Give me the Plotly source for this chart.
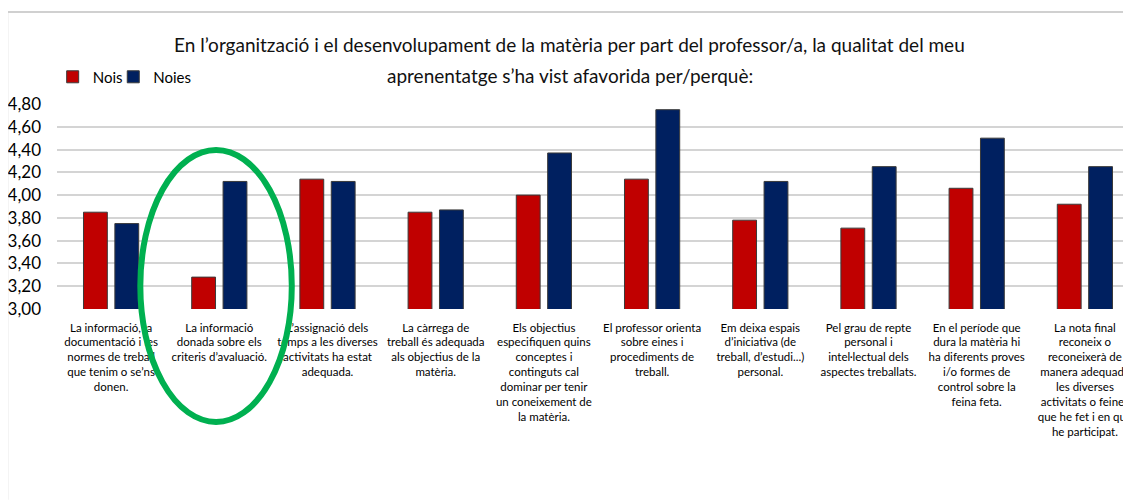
import plotly.graph_objects as go

# Categories (x labels, with line breaks as in the original)
categorias = [
    "La informació, la<br>documentació i les<br>normes de treball<br>que tenim o se’ns<br>donen.",
    "La informació<br>donada sobre els<br>criteris d’avaluació.",
    "L’assignació dels<br>temps a les diverses<br>activitats ha estat<br>adequada.",
    "La càrrega de<br>treball és adequada<br>als objectius de la<br>matèria.",
    "Els objectius<br>especifiquen quins<br>conceptes i<br>continguts cal<br>dominar per tenir<br>un coneixement de<br>la matèria.",
    "El professor orienta<br>sobre eines i<br>procediments de<br>treball.",
    "Em deixa espais<br>d’iniciativa (de<br>treball, d’estudi...)<br>personal.",
    "Pel grau de repte<br>personal i<br>intel·lectual dels<br>aspectes treballats.",
    "En el període que<br>dura la matèria hi<br>ha diferents proves<br>i/o formes de<br>control sobre la<br>feina feta.",
    "La nota final<br>reconeix o<br>reconeixerà de<br>manera adequada<br>les diverses<br>activitats o feines<br>que he fet i en què<br>he participat.",
]

# Valors llegits del gràfic
nois = [3.85, 3.28, 4.14, 3.85, 4.00, 4.14, 3.78, 3.71, 4.06, 3.92]
noies = [3.75, 4.12, 4.12, 3.87, 4.37, 4.75, 4.12, 4.25, 4.50, 4.25]

titol_1 = "En l’organització i el desenvolupament de la matèria per part del professor/a, la qualitat del meu"
titol_2 = "aprenentatge s’ha vist afavorida per/perquè:"

font_base = "Lato, Liberation Sans, sans-serif"

fig = go.Figure()
fig.add_trace(go.Bar(x=categorias, y=nois, name="Nois", legend="legend", showlegend=True,
                     marker=dict(color="#C00000", line=dict(color="#3a3a3a", width=1))))
fig.add_trace(go.Bar(x=categorias, y=noies, name="Noies", legend="legend2", showlegend=True,
                     marker=dict(color="#002060", line=dict(color="#3a3a3a", width=1))))

fig.update_layout(
    width=1131, height=501,
    margin=dict(l=49, r=0, t=96, b=200, autoexpand=False),
    paper_bgcolor="white", plot_bgcolor="white",
    separators=",.",
    showlegend=True,
    font=dict(family=font_base, color="black", size=12),
    legend=dict(orientation="h", xref="paper", x=-0.004, y=1.212, yanchor="top",
                font=dict(size=15), itemwidth=30, bgcolor="rgba(0,0,0,0)", visible=True),
    legend2=dict(orientation="h", xref="paper", x=0.052, y=1.212, yanchor="top",
                 font=dict(size=15), itemwidth=30, bgcolor="rgba(0,0,0,0)", visible=True),
    bargap=0.42, bargroupgap=0.24,
    barmode="group",
    xaxis=dict(tickangle=0, showgrid=False, ticks="", showline=False, automargin=False,
               tickfont=dict(size=11.5), ticklabelstandoff=10),
    yaxis=dict(range=[3.0, 4.8], dtick=0.2, tick0=3.0, tickformat=".2f", automargin=False,
               showgrid=True, gridcolor="#d4d4d4", gridwidth=2,
               zeroline=False, showline=False, tickfont=dict(size=17),
               ticklabelstandoff=15),
)

# títol en dues línies
fig.add_annotation(text=titol_1, xref="paper", yref="paper", x=0.474, y=1.288,
                   xanchor="center", yanchor="middle", showarrow=False,
                   font=dict(size=19, color="#111"))
fig.add_annotation(text=titol_2, xref="paper", yref="paper", x=0.474, y=1.137,
                   xanchor="center", yanchor="middle", showarrow=False,
                   font=dict(size=19, color="#111"))

# marc gris del gràfic (vora superior i esquerra)
fig.add_shape(type="line", xref="paper", yref="paper", x0=-0.046, x1=1.0, y0=1.449, y1=1.449,
              line=dict(color="#d0d0d0", width=2))
fig.add_shape(type="line", xref="paper", yref="paper", x0=-0.046, x1=-0.046, y0=-0.93, y1=1.449,
              line=dict(color="#d0d0d0", width=2))

# el·lipse verda que destaca la segona categoria
fig.add_shape(type="circle", xref="paper", yref="paper",
              x0=0.077, x1=0.217, y0=-0.551, y1=0.776,
              line=dict(color="#00B050", width=6))

fig.write_html("out.html")
